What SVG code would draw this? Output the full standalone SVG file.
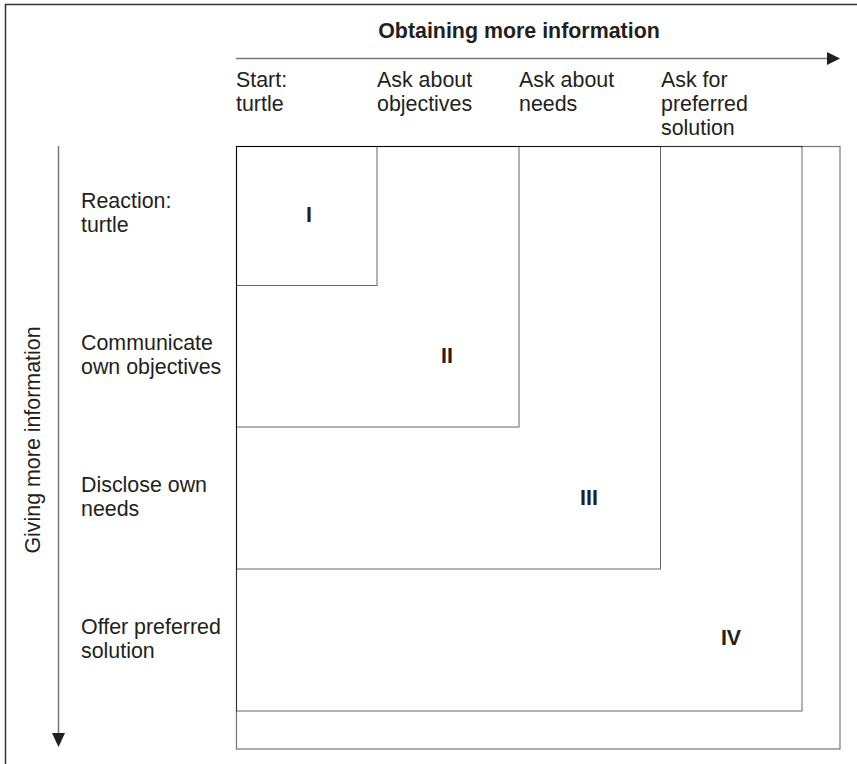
<svg xmlns="http://www.w3.org/2000/svg" width="857" height="764" viewBox="0 0 857 764">
<style>
text{font-family:"Liberation Sans",Arial,Helvetica,sans-serif;font-size:21.4px;fill:#231f20}
.b{font-weight:bold}
.n{font-weight:bold;text-anchor:middle}
.box{fill:none;stroke:#000;stroke-opacity:0.6;stroke-width:1}
.outer{fill:none;stroke:#777;stroke-width:1.2}
.axis{stroke:#777;stroke-width:1.5;fill:none}
.head{fill:#231f20}
.frame{stroke:#333;stroke-width:1.5;fill:none}
</style>
<rect width="857" height="764" fill="#fff"/>
<path class="frame" d="M5.5,764 V4.5 H857"/>
<g id="connectors">
  <line class="axis" x1="236" y1="58.5" x2="829" y2="58.5"/>
  <polygon class="head" points="827,52 840,58.5 827,65"/>
  <line class="axis" x1="58.5" y1="146" x2="58.5" y2="735"/>
  <polygon class="head" points="52,733 65,733 58.5,747"/>
</g>
<g id="axis-labels">
  <text class="b" x="519" y="38" text-anchor="middle">Obtaining more information</text>
  <text x="40" y="440" text-anchor="middle" transform="rotate(-90 40 440)">Giving more information</text>
</g>
<g id="columns">
  <text x="236" y="87">Start:</text><text x="236" y="111">turtle</text>
  <text x="377" y="87">Ask about</text><text x="377" y="111">objectives</text>
  <text x="519" y="87">Ask about</text><text x="519" y="111">needs</text>
  <text x="661" y="87">Ask for</text><text x="661" y="111">preferred</text><text x="661" y="135">solution</text>
</g>
<g id="rows">
  <text x="81" y="208">Reaction:</text><text x="81" y="232">turtle</text>
  <text x="81" y="350">Communicate</text><text x="81" y="374">own objectives</text>
  <text x="81" y="492">Disclose own</text><text x="81" y="516">needs</text>
  <text x="81" y="634">Offer preferred</text><text x="81" y="658">solution</text>
</g>
<g id="outer"><rect class="outer" x="236.5" y="146.5" width="603.5" height="602.5"/></g>
<g id="stage-IV"><rect class="box" x="236.5" y="146.5" width="565.5" height="564.5"/><text class="n" x="731" y="645">IV</text></g>
<g id="stage-III"><rect class="box" x="236.5" y="146.5" width="424" height="422.5"/><text class="n" x="589" y="505">III</text></g>
<g id="stage-II"><rect class="box" x="236.5" y="146.5" width="282.5" height="280.5"/><text class="n" x="447" y="363">II</text></g>
<g id="stage-I"><rect class="box" x="236.5" y="146.5" width="140.5" height="139"/><text class="n" x="309" y="222">I</text></g>
</svg>
